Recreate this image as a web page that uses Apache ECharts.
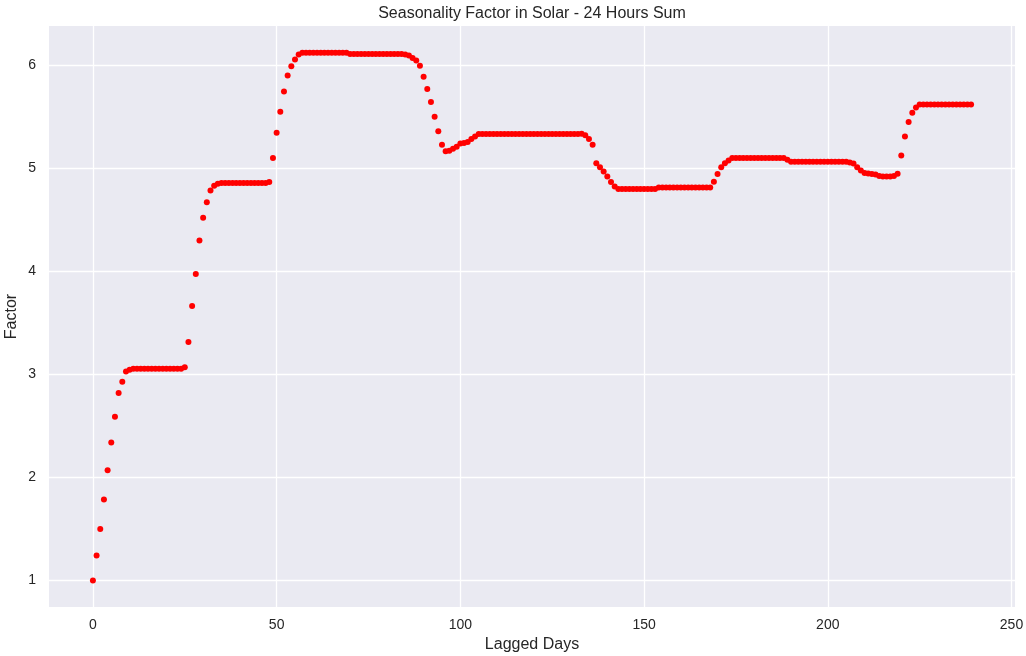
<!DOCTYPE html>
<html>
<head>
<meta charset="utf-8">
<title>Seasonality Factor in Solar - 24 Hours Sum</title>
<script src="https://cdn.jsdelivr.net/npm/echarts@6/dist/echarts.min.js"></script>
<style>
  html, body { margin: 0; padding: 0; background: #ffffff; }
  #chart { width: 1026px; height: 656px; }
</style>
</head>
<body>
<div id="chart"></div>
<script>
// Seasonality factor for each lagged day (0..239)
const factor = [
  1.000, 1.243, 1.500, 1.786, 2.070, 2.340, 2.590, 2.820, 2.930, 3.030,
  3.045, 3.055, 3.055, 3.055, 3.055, 3.055, 3.055, 3.055, 3.055, 3.055,
  3.055, 3.055, 3.055, 3.055, 3.055, 3.070, 3.315, 3.665, 3.975, 4.300,
  4.520, 4.670, 4.786, 4.830, 4.850, 4.857, 4.857, 4.857, 4.857, 4.857,
  4.857, 4.857, 4.857, 4.857, 4.857, 4.857, 4.857, 4.857, 4.867, 5.100,
  5.345, 5.550, 5.746, 5.900, 5.990, 6.056, 6.105, 6.122, 6.122, 6.122,
  6.122, 6.122, 6.122, 6.122, 6.122, 6.122, 6.122, 6.122, 6.122, 6.122,
  6.110, 6.110, 6.110, 6.110, 6.110, 6.110, 6.110, 6.110, 6.110, 6.110,
  6.110, 6.110, 6.110, 6.110, 6.110, 6.105, 6.095, 6.070, 6.047, 5.995,
  5.888, 5.770, 5.643, 5.500, 5.360, 5.230, 5.165, 5.170, 5.190, 5.210,
  5.240, 5.245, 5.255, 5.285, 5.310, 5.333, 5.333, 5.333, 5.333, 5.333,
  5.333, 5.333, 5.333, 5.333, 5.333, 5.333, 5.333, 5.333, 5.333, 5.333,
  5.333, 5.333, 5.333, 5.333, 5.333, 5.333, 5.333, 5.333, 5.333, 5.333,
  5.333, 5.333, 5.333, 5.335, 5.320, 5.285, 5.230, 5.050, 5.010, 4.970,
  4.920, 4.867, 4.825, 4.800, 4.800, 4.800, 4.800, 4.800, 4.800, 4.800,
  4.800, 4.800, 4.800, 4.800, 4.815, 4.815, 4.815, 4.815, 4.815, 4.815,
  4.815, 4.815, 4.815, 4.815, 4.815, 4.815, 4.815, 4.815, 4.815, 4.870,
  4.945, 5.010, 5.050, 5.077, 5.100, 5.100, 5.100, 5.100, 5.100, 5.100,
  5.100, 5.100, 5.100, 5.100, 5.100, 5.100, 5.100, 5.100, 5.100, 5.083,
  5.064, 5.064, 5.064, 5.064, 5.064, 5.064, 5.064, 5.064, 5.064, 5.064,
  5.064, 5.064, 5.064, 5.064, 5.064, 5.064, 5.057, 5.047, 5.010, 4.980,
  4.955, 4.950, 4.945, 4.940, 4.925, 4.920, 4.920, 4.920, 4.925, 4.948,
  5.125, 5.310, 5.450, 5.540, 5.590, 5.620, 5.620, 5.620, 5.620, 5.620,
  5.620, 5.620, 5.620, 5.620, 5.620, 5.620, 5.620, 5.620, 5.620, 5.620
];

// Lagged day index for each factor value
const laggedDays = factor.map((_, i) => i);

// Tick positions on both axes
const xTicks = [0, 50, 100, 150, 200, 250];
const yTicks = [1, 2, 3, 4, 5, 6];

const points = laggedDays.map((d, i) => [d, factor[i]]);

const FONT = '"Liberation Sans", Arial, sans-serif';
const TEXT = '#262626';

const chart = echarts.init(document.getElementById('chart'), null, { renderer: 'canvas' });

chart.setOption({
  backgroundColor: '#ffffff',
  animation: false,
  title: {
    text: 'Seasonality Factor in Solar - 24 Hours Sum',
    left: 532,
    textAlign: 'center',
    top: 6,
    padding: 0,
    textStyle: { fontFamily: FONT, fontSize: 16, fontWeight: 'normal', color: TEXT }
  },
  grid: {
    left: 49,
    right: 11,
    top: 26,
    bottom: 49,
    containLabel: false,
    outerBoundsMode: 'none',
    show: true,
    backgroundColor: '#EAEAF2',
    borderWidth: 0
  },
  xAxis: {
    type: 'value',
    min: -11.95,
    max: 250.95,
    name: 'Lagged Days',
    nameLocation: 'middle',
    nameGap: 30,
    nameMoveOverlap: false,
    nameTextStyle: { fontFamily: FONT, fontSize: 16, color: TEXT },
    axisLine: { show: false },
    axisTick: { show: false, customValues: xTicks },
    axisLabel: {
      customValues: xTicks,
      margin: 11,
      fontFamily: FONT,
      fontSize: 14,
      color: TEXT
    },
    splitLine: { show: true, lineStyle: { color: '#ffffff', width: 1.3 } }
  },
  yAxis: {
    type: 'value',
    min: 0.744,
    max: 6.381,
    name: 'Factor',
    nameLocation: 'middle',
    nameGap: 29,
    nameMoveOverlap: false,
    nameTextStyle: { fontFamily: FONT, fontSize: 16, color: TEXT },
    axisLine: { show: false },
    axisTick: { show: false, customValues: yTicks },
    axisLabel: {
      customValues: yTicks,
      margin: 13,
      fontFamily: FONT,
      fontSize: 14,
      color: TEXT
    },
    splitLine: { show: true, lineStyle: { color: '#ffffff', width: 1.3 } }
  },
  series: [{
    type: 'scatter',
    data: points,
    symbol: 'circle',
    symbolSize: 6,
    itemStyle: { color: '#ff0000', opacity: 1 },
    emphasis: { disabled: true }
  }]
});
</script>
</body>
</html>
